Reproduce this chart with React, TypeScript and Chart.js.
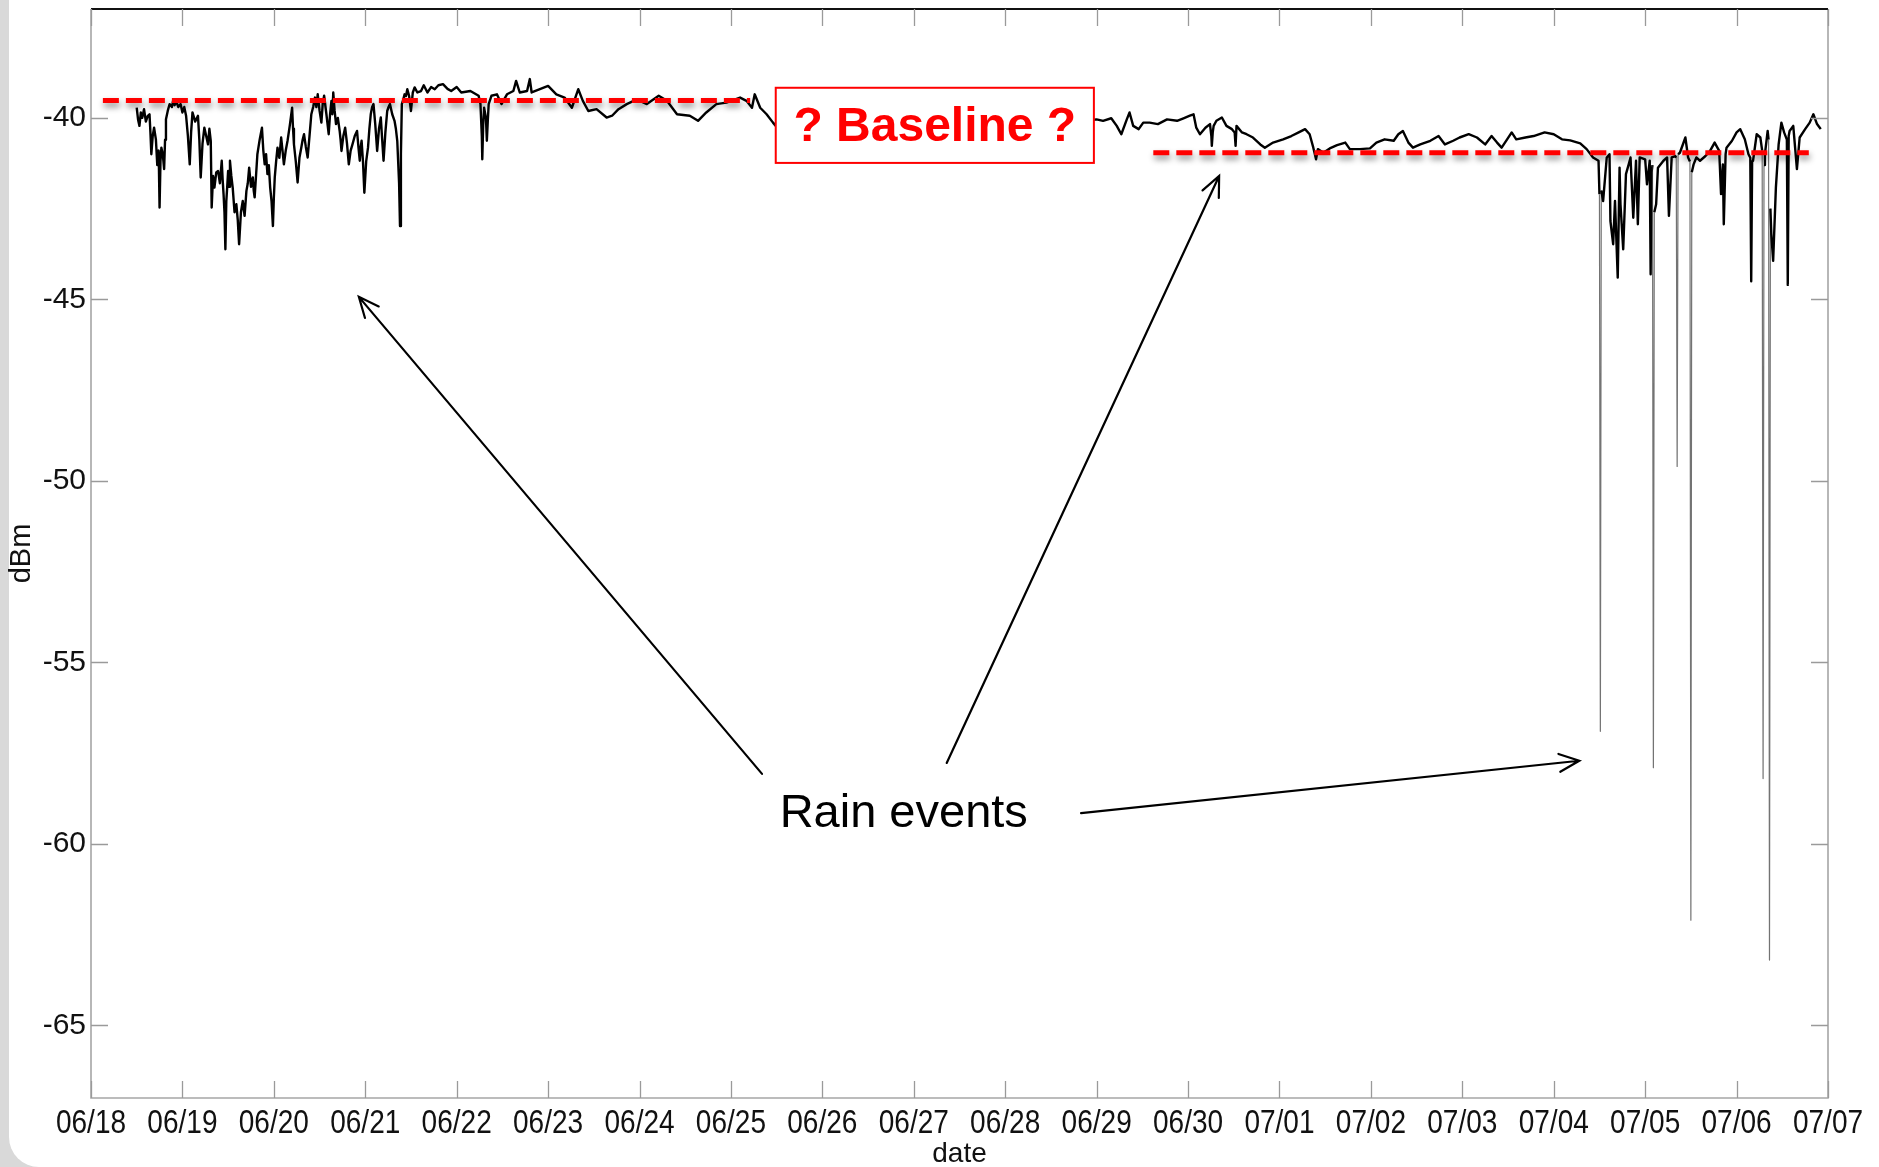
import React, { useEffect, useRef } from "react";
import { Chart, registerables } from "chart.js";

Chart.register(...registerables);

// ---------- data ----------
const xTickLabels = [
  "06/18", "06/19", "06/20", "06/21", "06/22", "06/23", "06/24", "06/25", "06/26", "06/27",
  "06/28", "06/29", "06/30", "07/01", "07/02", "07/03", "07/04", "07/05", "07/06", "07/07",
];
const yTickValues = [-65, -60, -55, -50, -45, -40];

// days since 06/18 00:00
const sampleDay = [
  0.50, 0.515, 0.53, 0.545, 0.56, 0.58, 0.60, 0.62, 0.64, 0.65, 0.66, 0.675, 0.69, 0.71, 0.725,
  0.74, 0.75, 0.76, 0.77, 0.785, 0.80, 0.81, 0.82, 0.84, 0.86, 0.885, 0.90, 0.915, 0.93, 0.955,
  0.98, 1.00, 1.02, 1.04, 1.06, 1.08, 1.095, 1.11, 1.14, 1.17, 1.185, 1.20, 1.22, 1.24, 1.26,
  1.28, 1.295, 1.31, 1.32, 1.335, 1.35, 1.37, 1.39, 1.41, 1.43, 1.44, 1.45, 1.46, 1.47, 1.48,
  1.49, 1.50, 1.51, 1.52, 1.535, 1.55, 1.57, 1.59, 1.605, 1.62, 1.64, 1.66, 1.68, 1.70, 1.715,
  1.73, 1.75, 1.77, 1.78, 1.79, 1.805, 1.82, 1.845, 1.87, 1.885, 1.90, 1.915, 1.93, 1.945, 1.96,
  1.975, 1.99, 2.00, 2.01, 2.025, 2.04, 2.06, 2.08, 2.095, 2.11, 2.13, 2.15, 2.175, 2.20, 2.21,
  2.22, 2.24, 2.26, 2.28, 2.30, 2.315, 2.33, 2.35, 2.37, 2.39, 2.41, 2.43, 2.45, 2.465, 2.48,
  2.50, 2.52, 2.535, 2.55, 2.575, 2.60, 2.615, 2.63, 2.64, 2.65, 2.665, 2.68, 2.70, 2.72, 2.73,
  2.74, 2.76, 2.78, 2.80, 2.82, 2.84, 2.86, 2.885, 2.91, 2.925, 2.94, 2.95, 2.96, 2.975, 2.99,
  3.01, 3.03, 3.045, 3.06, 3.075, 3.09, 3.11, 3.13, 3.15, 3.17, 3.185, 3.20, 3.22, 3.24, 3.255,
  3.27, 3.295, 3.32, 3.335, 3.35, 3.37, 3.38, 3.39, 3.40, 3.415, 3.43, 3.445, 3.46, 3.48, 3.50,
  3.52, 3.54, 3.57, 3.61, 3.64, 3.68, 3.72, 3.76, 3.80, 3.85, 3.90, 3.94, 4.00, 4.05,
  4.15, 4.24, 4.26, 4.275, 4.28, 4.29, 4.30, 4.32, 4.33, 4.34, 4.35, 4.38, 4.44, 4.49, 4.55,
  4.62, 4.65, 4.69, 4.77, 4.80, 4.82, 4.91, 5.00, 5.09, 5.18, 5.26, 5.33, 5.38, 5.44, 5.53,
  5.64, 5.70, 5.77, 5.86, 5.97, 6.08, 6.21, 6.30, 6.41, 6.55, 6.64, 6.73, 6.84, 6.95, 7.10,
  7.17, 7.23, 7.26, 7.32, 7.39, 7.46, 7.49,
  8.00, 8.50, 9.00, 9.50, 10.00, 10.50, 10.97,
  11.00, 11.07, 11.16, 11.22, 11.27, 11.33, 11.36, 11.40, 11.46, 11.51, 11.58, 11.67, 11.77, 11.88, 11.95,
  12.02, 12.06, 12.09, 12.13,
  12.19, 12.24, 12.255, 12.26, 12.27, 12.28, 12.31, 12.37, 12.42, 12.48, 12.51, 12.52, 12.53, 12.59, 12.64,
  12.71, 12.79, 12.84, 12.93, 13.04, 13.13, 13.21, 13.28, 13.33, 13.37, 13.40, 13.42, 13.48, 13.55, 13.63,
  13.72, 13.77, 13.88, 13.99, 14.06, 14.15, 14.25, 14.30, 14.35, 14.41, 14.46, 14.54, 14.65, 14.74, 14.81,
  14.90, 14.97, 15.07, 15.16, 15.25, 15.32, 15.38, 15.43, 15.49, 15.54, 15.59, 15.69, 15.78, 15.90, 16.00,
  16.09, 16.18, 16.29, 16.36, 16.43, 16.49, 16.50, 16.51, 16.52, 16.54, 16.58, 16.61, 16.62, 16.65, 16.67,
  16.70, 16.72, 16.73, 16.76, 16.79, 16.82, 16.84, 16.87, 16.90, 16.92, 16.94, 17.00, 17.02, 17.05, 17.06,
  17.07, 17.08, 17.09, 17.10, 17.12, 17.14, 17.20, 17.24, 17.26, 17.29, 17.33, 17.34, 17.35, 17.36, 17.38,
  17.44, 17.47, 17.49, 17.50, 17.51, 17.53, 17.56, 17.60, 17.66, 17.71, 17.76, 17.81, 17.83, 17.85, 17.86,
  17.88, 17.89, 17.95, 18.00, 18.04, 18.09, 18.13, 18.15, 18.16, 18.17, 18.18, 18.22, 18.26, 18.28, 18.29,
  18.30, 18.31, 18.34, 18.35, 18.36, 18.37, 18.38, 18.40, 18.43, 18.46, 18.49, 18.52, 18.55, 18.56, 18.57,
  18.58, 18.62, 18.66, 18.69, 18.75, 18.80, 18.84, 18.88, 18.91, 18.92,
];

const sampleDbm = [
  -39.72, -40.05, -40.22, -39.85, -40.00, -39.76, -40.10, -39.95, -39.90, -40.40, -41.00, -40.50, -40.27, -40.60, -41.30,
  -40.90, -42.47, -41.20, -40.82, -41.00, -41.41, -40.60, -40.04, -39.80, -39.62, -39.70, -39.50, -39.65, -39.53, -39.70,
  -39.62, -39.85, -39.70, -39.94, -40.50, -41.28, -40.40, -39.85, -40.10, -39.94, -40.60, -41.64, -40.70, -40.27, -40.50,
  -40.73, -40.30, -40.63, -42.47, -41.60, -41.92, -41.50, -41.46, -41.80, -41.18, -41.70, -42.10, -42.60, -43.62, -42.30,
  -41.90, -41.46, -41.90, -41.18, -41.60, -41.92, -42.60, -42.38, -42.80, -43.48, -42.60, -42.29, -42.70, -42.01, -41.80,
  -41.37, -41.90, -41.64, -42.00, -42.19, -41.60, -41.00, -40.60, -40.27, -40.90, -41.28, -41.00, -41.55, -41.30, -41.92,
  -42.30, -42.98, -42.20, -41.64, -41.20, -40.82, -41.10, -40.54, -40.90, -41.28, -40.90, -40.63, -40.20, -39.72, -40.30,
  -40.73, -41.20, -41.78, -41.10, -40.82, -40.60, -40.45, -40.80, -41.09, -40.50, -39.90, -39.70, -39.44, -39.70, -39.35,
  -39.80, -40.13, -39.60, -39.39, -39.90, -40.45, -39.90, -39.53, -39.90, -39.30, -39.80, -40.17, -40.00, -40.36, -40.60,
  -40.91, -40.50, -40.27, -40.70, -41.28, -40.90, -40.73, -40.50, -40.36, -40.80, -41.18, -40.80, -40.63, -41.20, -42.06,
  -41.20, -40.82, -40.30, -39.90, -39.70, -39.62, -40.20, -40.91, -40.30, -39.99, -40.60, -41.18, -40.40, -39.81, -39.70,
  -39.62, -39.90, -40.08, -40.30, -40.63, -41.80, -42.98, -41.00, -39.62, -39.50, -39.35, -39.40, -39.21, -39.40, -39.81,
  -39.30, -39.16, -39.30, -39.26, -39.10, -39.30, -39.15, -39.21, -39.10, -39.07, -39.20, -39.26, -39.15, -39.30,
  -39.26, -39.39, -39.62, -40.50, -41.14, -40.20, -39.72, -40.00, -40.63, -40.10, -39.62, -39.39, -39.35, -39.62, -39.35,
  -39.26, -38.98, -39.30, -39.26, -38.93, -39.30, -39.21, -39.12, -39.35, -39.44, -39.72, -39.21, -39.53, -39.81, -39.76,
  -39.99, -39.94, -39.76, -39.62, -39.49, -39.62, -39.39, -39.53, -39.90, -39.94, -40.08, -39.85, -39.62, -39.58, -39.44,
  -39.53, -39.72, -39.35, -39.72, -39.90, -40.13, -40.22,
  -40.30, -40.20, -40.25, -40.15, -40.20, -40.10, -40.05,
  -40.04, -40.08, -40.01, -40.22, -40.45, -40.04, -39.85, -40.22, -40.31, -40.13, -40.13, -40.17, -40.04, -40.08, -40.01,
  -39.94, -39.90, -40.27, -40.45,
  -40.27, -40.17, -40.50, -40.77, -40.40, -40.22, -40.08, -39.99, -40.22, -40.31, -40.40, -40.77, -40.22, -40.40, -40.45,
  -40.54, -40.73, -40.82, -40.68, -40.59, -40.50, -40.40, -40.31, -40.45, -40.82, -41.14, -40.86, -40.96, -40.84, -40.75,
  -40.68, -40.86, -40.86, -40.84, -40.68, -40.59, -40.63, -40.45, -40.36, -40.68, -40.82, -40.73, -40.63, -40.50, -40.73,
  -40.63, -40.54, -40.45, -40.54, -40.73, -40.50, -40.68, -40.82, -40.59, -40.40, -40.59, -40.54, -40.50, -40.40, -40.45,
  -40.59, -40.62, -40.70, -40.86, -41.09, -41.18, -42.10, -56.90, -42.00, -42.29, -41.09, -41.00, -42.84, -43.48, -42.29,
  -44.40, -41.37, -42.38, -43.62, -41.55, -41.28, -41.09, -42.75, -41.18, -42.93, -41.09, -41.14, -41.83, -41.18, -44.31,
  -41.50, -41.30, -57.90, -42.60, -42.38, -41.37, -41.18, -41.09, -42.70, -41.09, -41.05, -41.10, -49.60, -41.00, -40.96,
  -40.54, -41.09, -41.20, -62.10, -41.50, -41.28, -41.09, -41.18, -41.05, -40.91, -40.68, -40.91, -42.10, -41.28, -42.93,
  -41.00, -40.82, -40.63, -40.40, -40.31, -40.59, -41.00, -41.10, -44.50, -41.20, -41.18, -40.45, -40.54, -40.90, -58.20,
  -41.30, -41.00, -40.36, -40.60, -63.20, -42.50, -43.20, -43.94, -41.92, -40.73, -40.13, -40.40, -40.60, -44.60, -40.50,
  -40.36, -40.22, -41.41, -40.54, -40.31, -40.13, -39.90, -40.17, -40.27, -40.31,
];

// ---------- annotations (data units) ----------
const baselineSegments = [
  { from: 0.13, to: 7.21, level: -39.52 },
  { from: 11.62, to: 18.79, level: -40.96 },
];
const baselineBox = { x0: 7.49, x1: 10.97, yTop: -39.17, yBottom: -41.24, text: "? Baseline ?" };
const rainArrows = [
  { from: [7.34, -58.07], to: [2.93, -44.93] },
  { from: [9.36, -57.77], to: [12.34, -41.6] },
  { from: [10.83, -59.15], to: [16.28, -57.71] },
];
const rainLabel = { x: 8.89, y: -59.17, text: "Rain events" };

const annotationPlugin = {
  id: "annotations",
  afterDatasetsDraw(chart: any) {
    const { ctx, chartArea: a, scales } = chart;
    const xs = scales.x;
    const ys = scales.y;
    const px = (v: number) => xs.getPixelForValue(v);
    const py = (v: number) => ys.getPixelForValue(v);
    ctx.save();

    // frame
    ctx.lineCap = "butt";
    ctx.strokeStyle = "#a6a6a6";
    ctx.lineWidth = 1.6;
    ctx.beginPath();
    ctx.moveTo(a.left, a.top);
    ctx.lineTo(a.left, a.bottom);
    ctx.lineTo(a.right, a.bottom);
    ctx.lineTo(a.right, a.top);
    ctx.stroke();
    ctx.strokeStyle = "#111";
    ctx.lineWidth = 2.2;
    ctx.beginPath();
    ctx.moveTo(a.left, a.top);
    ctx.lineTo(a.right, a.top);
    ctx.stroke();

    // inward ticks
    const tl = 17;
    ctx.strokeStyle = "#9a9a9a";
    ctx.lineWidth = 1.3;
    ctx.beginPath();
    xs.ticks.forEach((t: any) => {
      const x = Math.round(px(t.value)) + 0.5;
      ctx.moveTo(x, a.bottom);
      ctx.lineTo(x, a.bottom - tl);
      ctx.moveTo(x, a.top);
      ctx.lineTo(x, a.top + tl);
    });
    ys.ticks.forEach((t: any) => {
      const y = Math.round(py(t.value)) + 0.5;
      ctx.moveTo(a.left, y);
      ctx.lineTo(a.left + tl, y);
      ctx.moveTo(a.right, y);
      ctx.lineTo(a.right - tl, y);
    });
    ctx.stroke();

    // x tick labels (condensed)
    ctx.fillStyle = "#111";
    ctx.font = "33px 'Liberation Sans', Arial, sans-serif";
    ctx.textAlign = "center";
    ctx.textBaseline = "alphabetic";
    xTickLabels.forEach((lab, i) => {
      ctx.save();
      ctx.translate(px(i), a.bottom + 35);
      ctx.scale(0.85, 1);
      ctx.fillText(lab, 0, 0);
      ctx.restore();
    });

    // axis titles
    ctx.fillStyle = "#111";
    ctx.font = "28px 'Liberation Sans', Arial, sans-serif";
    ctx.textAlign = "center";
    ctx.textBaseline = "middle";
    ctx.fillText("date", (a.left + a.right) / 2, 1154);
    ctx.save();
    ctx.translate(22, (a.top + a.bottom) / 2);
    ctx.rotate(-Math.PI / 2);
    ctx.font = "29px 'Liberation Sans', Arial, sans-serif";
    ctx.fillText("dBm", 0, 0);
    ctx.restore();

    // red dashed baselines with shadow
    ctx.save();
    ctx.strokeStyle = "#ff0000";
    ctx.lineWidth = 5;
    ctx.setLineDash([16, 7]);
    ctx.shadowColor = "rgba(0,0,0,0.45)";
    ctx.shadowBlur = 6;
    ctx.shadowOffsetX = 1;
    ctx.shadowOffsetY = 4;
    baselineSegments.forEach((s) => {
      ctx.beginPath();
      ctx.moveTo(px(s.from), py(s.level));
      ctx.lineTo(px(s.to), py(s.level));
      ctx.stroke();
    });
    ctx.restore();

    // baseline box
    const bx0 = px(baselineBox.x0);
    const bx1 = px(baselineBox.x1);
    const by0 = py(baselineBox.yTop);
    const by1 = py(baselineBox.yBottom);
    ctx.fillStyle = "#ffffff";
    ctx.fillRect(bx0, by0, bx1 - bx0, by1 - by0);
    ctx.strokeStyle = "#ff0000";
    ctx.lineWidth = 2;
    ctx.strokeRect(bx0, by0, bx1 - bx0, by1 - by0);
    ctx.fillStyle = "#ff0000";
    ctx.font = "bold 48px 'Liberation Sans', Arial, sans-serif";
    ctx.textAlign = "center";
    ctx.textBaseline = "middle";
    ctx.fillText(baselineBox.text, (bx0 + bx1) / 2, (by0 + by1) / 2 + 2);

    // arrows
    ctx.strokeStyle = "#000";
    ctx.lineWidth = 2.2;
    ctx.lineCap = "round";
    rainArrows.forEach((ar) => {
      const x0 = px(ar.from[0]);
      const y0 = py(ar.from[1]);
      const x1 = px(ar.to[0]);
      const y1 = py(ar.to[1]);
      const ang = Math.atan2(y1 - y0, x1 - x0);
      const hl = 22;
      const hw = 0.42;
      ctx.beginPath();
      ctx.moveTo(x0, y0);
      ctx.lineTo(x1, y1);
      ctx.moveTo(x1 - hl * Math.cos(ang - hw), y1 - hl * Math.sin(ang - hw));
      ctx.lineTo(x1, y1);
      ctx.lineTo(x1 - hl * Math.cos(ang + hw), y1 - hl * Math.sin(ang + hw));
      ctx.stroke();
    });

    // rain events label
    ctx.fillStyle = "#000";
    ctx.font = "47px 'Liberation Sans', Arial, sans-serif";
    ctx.textAlign = "center";
    ctx.textBaseline = "middle";
    ctx.fillText(rainLabel.text, px(rainLabel.x), py(rainLabel.y));

    ctx.restore();
  },
};

const zeroPad = (s: any) => {
  s.paddingTop = 0;
  s.paddingBottom = 0;
  s.paddingLeft = 0;
  s.paddingRight = 0;
};

export default function App() {
  const canvasRef = useRef<HTMLCanvasElement | null>(null);

  useEffect(() => {
    const canvas = canvasRef.current;
    if (!canvas) return;
    const points = sampleDay.map((d, i) => ({ x: d, y: sampleDbm[i] }));
    const chart = new Chart(canvas, {
      type: "line",
      data: {
        datasets: [
          {
            data: points,
            borderColor: "#000",
            borderWidth: 2.4,
            borderJoinStyle: "round",
            pointRadius: 0,
            tension: 0,
            fill: false,
            segment: {
              borderColor: (c: any) =>
                Math.min(c.p0.parsed.y, c.p1.parsed.y) < -44.8 ? "rgba(40,40,40,0.65)" : undefined,
              borderWidth: (c: any) =>
                Math.min(c.p0.parsed.y, c.p1.parsed.y) < -44.8 ? 1.2 : undefined,
            },
          } as any,
        ],
      },
      options: {
        animation: false,
        responsive: false,
        devicePixelRatio: 1,
        layout: { padding: { left: 0, right: 51, top: 9, bottom: 0 } },
        plugins: { legend: { display: false }, tooltip: { enabled: false } },
        scales: {
          x: {
            type: "linear",
            min: 0,
            max: 19,
            grid: { display: false, drawTicks: false },
            border: { display: false },
            afterBuildTicks: (s: any) => {
              s.ticks = xTickLabels.map((_, i) => ({ value: i }));
            },
            afterFit: (s: any) => {
              s.height = 69;
              zeroPad(s);
            },
            ticks: { display: false, autoSkip: false },
          },
          y: {
            type: "linear",
            min: -67,
            max: -37,
            grid: { display: false, drawTicks: false },
            border: { display: false },
            afterBuildTicks: (s: any) => {
              s.ticks = yTickValues.map((v) => ({ value: v }));
            },
            afterFit: (s: any) => {
              s.width = 91;
              zeroPad(s);
            },
            ticks: {
              padding: 5,
              color: "#111",
              font: { family: "'Liberation Sans', Arial", size: 30 },
              callback: (v: any) => String(v),
            },
          },
        },
      },
      plugins: [annotationPlugin],
    });
    return () => chart.destroy();
  }, []);

  return (
    <div style={{ position: "fixed", left: 0, top: 0, width: 1879, height: 1167, background: "#d9d9d9", overflow: "hidden" }}>
      <div
        style={{
          position: "absolute",
          left: 9,
          top: 0,
          right: 0,
          bottom: 0,
          background: "#ffffff",
          borderBottomLeftRadius: 30,
        }}
      />
      <canvas
        ref={canvasRef}
        width={1879}
        height={1167}
        style={{ position: "absolute", left: 0, top: 0, width: 1879, height: 1167 }}
      />
    </div>
  );
}
